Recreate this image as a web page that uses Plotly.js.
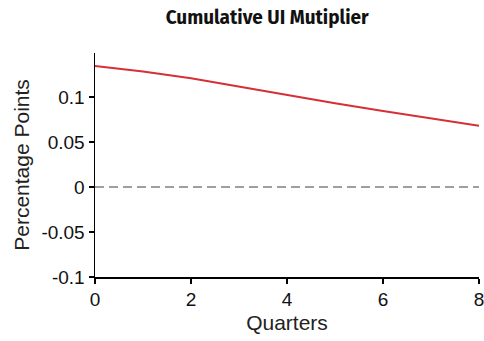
<!DOCTYPE html>
<html><head><meta charset="utf-8">
<script src="https://cdn.plot.ly/plotly-3.0.1.min.js"></script>
<style>html,body{margin:0;padding:0;background:#fff}#chart{width:484px;height:341px}</style>
</head><body><div id="chart"></div>
<script>
const quarters = [0, 1, 2, 3, 4, 5, 6, 7, 8];
const multiplier = [0.1345, 0.1285, 0.1210, 0.1117, 0.1022, 0.0932, 0.0846, 0.0762, 0.0680];
const zeroLine = [0, 0];
const zeroX = [0, 8];
const yTickVals = [-0.1, -0.05, 0, 0.05, 0.1];
const yTickText = ["-0.1", "-0.05", "0", "0.05", "0.1"];
const xTickVals = [0, 2, 4, 6, 8];

const traces = [
  {x: zeroX, y: zeroLine, mode: 'lines', line: {color: '#808080', width: 1.5, dash: '9px,5px'}, hoverinfo: 'skip'},
  {x: quarters, y: multiplier, mode: 'lines', line: {color: '#d62f36', width: 2}}
];
const layout = {
  width: 484, height: 341,
  margin: {l: 95, r: 5, t: 53, b: 64},
  paper_bgcolor: '#fff', plot_bgcolor: '#fff',
  showlegend: false,
  title: {text: '<b>Cumulative UI Mutiplier</b>', font: {family: '"Fira Sans", "Open Sans", "Noto Sans", sans-serif', size: 19, color: '#111'}, x: 0.552, xanchor: 'center', y: 0.95, yanchor: 'middle'},
  xaxis: {
    range: [0, 8], tickvals: xTickVals, ticks: 'outside', ticklen: 5, tickwidth: 1.5, tickcolor: '#000',
    showline: true, linecolor: '#000', linewidth: 1.5, showgrid: false, zeroline: false,
    ticklabeloverflow: 'allow',
    tickfont: {family: 'Liberation Sans, Arial, sans-serif', size: 19, color: '#111'},
    title: {text: 'Quarters', font: {family: 'Liberation Sans, Arial, sans-serif', size: 21, color: '#222'}, standoff: 6}
  },
  yaxis: {
    range: [-0.1, 0.149], tickvals: yTickVals, ticktext: yTickText, ticks: 'outside', ticklen: 5, tickwidth: 1.5, tickcolor: '#000',
    showline: true, linecolor: '#000', linewidth: 1.5, showgrid: false, zeroline: false,
    tickfont: {family: 'Liberation Sans, Arial, sans-serif', size: 19, color: '#111'},
    title: {text: 'Percentage Points', font: {family: 'Liberation Sans, Arial, sans-serif', size: 21, color: '#222'}, standoff: 6}
  }
};
Plotly.newPlot('chart', traces, layout, {displayModeBar: false, staticPlot: true});
</script></body></html>
